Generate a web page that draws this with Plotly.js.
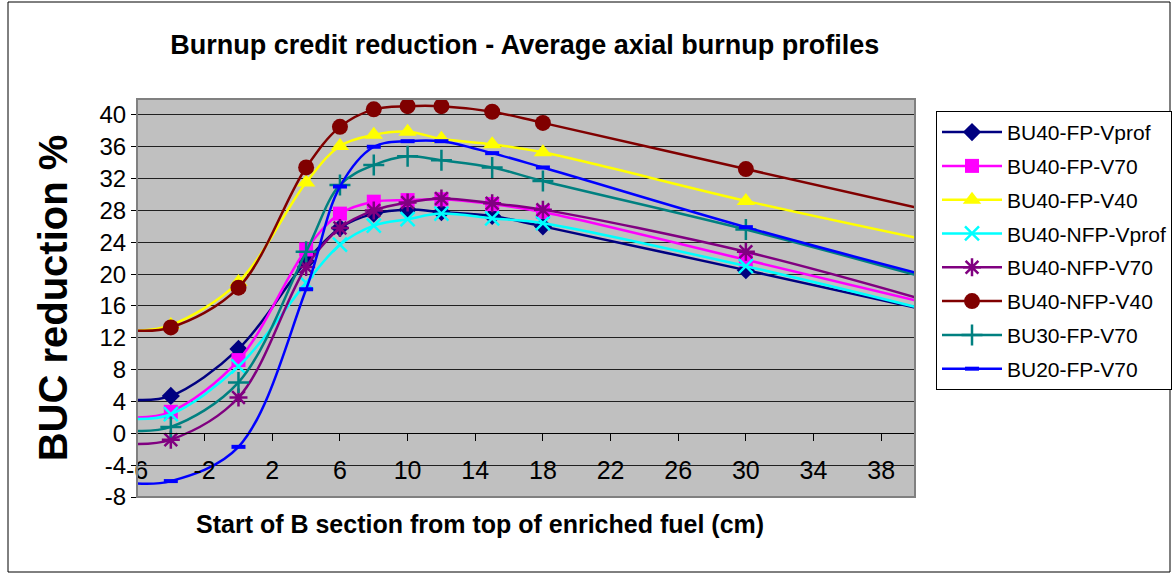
<!DOCTYPE html>
<html>
<head>
<meta charset="utf-8">
<script src="https://cdn.plot.ly/plotly-3.0.1.min.js"></script>
<style>
html,body{margin:0;padding:0;background:#fff;}
#chart{width:1174px;height:575px;}
</style>
</head>
<body>
<div id="chart"></div>
<script>
// x positions (cm); first and last entries are the unmarked line ends
var xStart = [-6, -4, 0, 4, 6, 8, 10, 12, 15, 18, 30, 40];

var seriesNames = ["BU40-FP-Vprof", "BU40-FP-V70", "BU40-FP-V40", "BU40-NFP-Vprof",
                   "BU40-NFP-V70", "BU40-NFP-V40", "BU30-FP-V70", "BU20-FP-V70"];

var bu40FpVprof  = [4.2, 4.7, 10.6, 21.6, 25.8, 27.6, 28.1, 27.8, 27.3, 26.0, 20.5, 15.8];
var bu40FpV70    = [2.0, 2.7, 9.2, 23.1, 27.6, 29.1, 29.3, 29.4, 28.8, 27.8, 21.8, 16.7];
var bu40FpV40    = [12.9, 13.6, 19.0, 31.5, 36.1, 37.5, 37.9, 37.0, 36.3, 35.3, 29.2, 24.6];
var bu40NfpVprof = [1.8, 2.4, 8.4, 18.9, 23.7, 26.1, 26.9, 27.6, 27.0, 26.4, 21.0, 15.9];
var bu40NfpV70   = [-1.35, -0.8, 4.5, 20.9, 25.8, 28.0, 29.0, 29.5, 28.9, 28.1, 22.8, 17.1];
var bu40NfpV40   = [12.9, 13.3, 18.3, 33.4, 38.5, 40.7, 41.1, 41.1, 40.4, 39.0, 33.2, 28.4];
var bu30FpV70    = [0.3, 0.8, 6.4, 22.8, 31.2, 33.7, 34.8, 34.3, 33.4, 31.7, 25.6, 19.9];
var bu20FpV70    = [-6.3, -6.0, -1.7, 18.1, 31.0, 36.0, 36.7, 36.7, 35.2, 33.4, 25.9, 20.2];

var xTickVals = [-6, -2, 2, 6, 10, 14, 18, 22, 26, 30, 34, 38];
var yTickVals = [-8, -4, 0, 4, 8, 12, 16, 20, 24, 28, 32, 36, 40];

var chartTitle = "Burnup credit reduction - Average axial burnup profiles";
var xTitle = "Start of B section from top of enriched fuel (cm)";
var yTitle = "BUC reduction %";

var seriesValues = [bu40FpVprof, bu40FpV70, bu40FpV40, bu40NfpVprof,
                    bu40NfpV70, bu40NfpV40, bu30FpV70, bu20FpV70];

var styles = [
  {color: "#000080", symbol: "diamond", size: 14, lw: 0},
  {color: "#FF00FF", symbol: "square", size: 14, lw: 0},
  {color: "#FFFF00", symbol: "triangle-up", size: 16, lw: 0},
  {color: "#00FFFF", symbol: "x-thin-open", size: 14, lw: 2.5},
  {color: "#800080", symbol: "asterisk-open", size: 15, lw: 2.5},
  {color: "#800000", symbol: "circle", size: 16, lw: 0},
  {color: "#008080", symbol: "cross-thin-open", size: 15, lw: 2.5},
  {color: "#0000FF", symbol: "line-ew-open", size: 10, lw: 4}
];

// marked points: all except the two line ends
var marked = [];
for (var i = 1; i < xStart.length - 1; i++) marked.push(i);

var traces = seriesNames.map(function (name, k) {
  var s = styles[k];
  return {
    type: "scatter",
    mode: "lines+markers",
    name: name,
    legendgroup: "g" + k,
    x: xStart,
    y: seriesValues[k],
    line: {color: s.color, width: 2.5, shape: "spline", smoothing: 1},
    marker: {color: s.color, symbol: s.symbol, size: s.size,
             line: {color: s.color, width: s.lw}},
    selectedpoints: marked,
    selected: {marker: {opacity: 1}},
    unselected: {marker: {opacity: 0}},
    cliponaxis: true,
    hoverinfo: "x+y+name"
  };
});

var FONT = "Liberation Sans, Arial, Helvetica, sans-serif";

var layout = {
  width: 1174,
  height: 575,
  margin: {l: 137, r: 259, t: 99, b: 78, autoexpand: false},
  paper_bgcolor: "#FFFFFF",
  plot_bgcolor: "#C0C0C0",
  font: {family: FONT, color: "#000000", size: 22},
  showlegend: true,
  title: {
    text: "<b>" + chartTitle + "</b>",
    font: {family: FONT, size: 27, color: "#000"},
    x: 0.447, xref: "container", xanchor: "center",
    y: 0.923, yref: "container", yanchor: "middle"
  },
  xaxis: {
    range: [-6, 40],
    tickmode: "array",
    tickvals: xTickVals,
    ticktext: xTickVals.map(String),
    anchor: "free",
    position: 0.16,
    showgrid: false,
    zeroline: false,
    showline: true,
    linecolor: "#000",
    linewidth: 1,
    ticks: "outside",
    ticklen: 7,
    tickwidth: 1,
    tickcolor: "#000",
    ticklabelstandoff: 8,
    tickfont: {family: FONT, size: 25, color: "#000"},
    automargin: false
  },
  yaxis: {
    range: [-8, 42],
    tickmode: "array",
    tickvals: yTickVals,
    ticktext: yTickVals.map(String),
    showgrid: true,
    gridcolor: "#202020",
    gridwidth: 1,
    zeroline: true,
    zerolinecolor: "#000",
    zerolinewidth: 1,
    showline: false,
    ticks: "outside",
    ticklen: 5,
    tickcolor: "#000",
    tickfont: {family: FONT, size: 24, color: "#000"},
    title: {
      text: "<b>" + yTitle + "</b>",
      font: {family: FONT, size: 40, color: "#000"},
      standoff: 19
    },
    automargin: false
  },
  annotations: [
    {text: "<b>" + xTitle + "</b>", xref: "paper", yref: "paper",
     x: 0.441, y: -0.068, xanchor: "center", yanchor: "middle",
     showarrow: false, font: {family: FONT, size: 25, color: "#000"}}
  ],
  legend: {
    x: 1.027, xanchor: "left", xref: "paper",
    y: 0.97, yanchor: "top", yref: "paper",
    bgcolor: "#FFFFFF",
    bordercolor: "#000",
    borderwidth: 1,
    font: {family: FONT, size: 21, color: "#000"},
    traceorder: "grouped",
    tracegroupgap: 3.5,
    itemwidth: 60
  },
  shapes: [
    {type: "rect", xref: "paper", yref: "paper", x0: 0, x1: 1, y0: 0, y1: 1,
     line: {color: "#808080", width: 2}, fillcolor: "rgba(0,0,0,0)", layer: "above"},
    {type: "rect", xref: "paper", yref: "paper",
     x0: (8 - 137) / 778, x1: (1170 - 137) / 778,
     y0: (497 - 572) / 398, y1: (497 - 2) / 398,
     line: {color: "#000", width: 1}, fillcolor: "rgba(0,0,0,0)", layer: "below"}
  ]
};

Plotly.newPlot("chart", traces, layout, {displayModeBar: false, staticPlot: true});
</script>
</body>
</html>
